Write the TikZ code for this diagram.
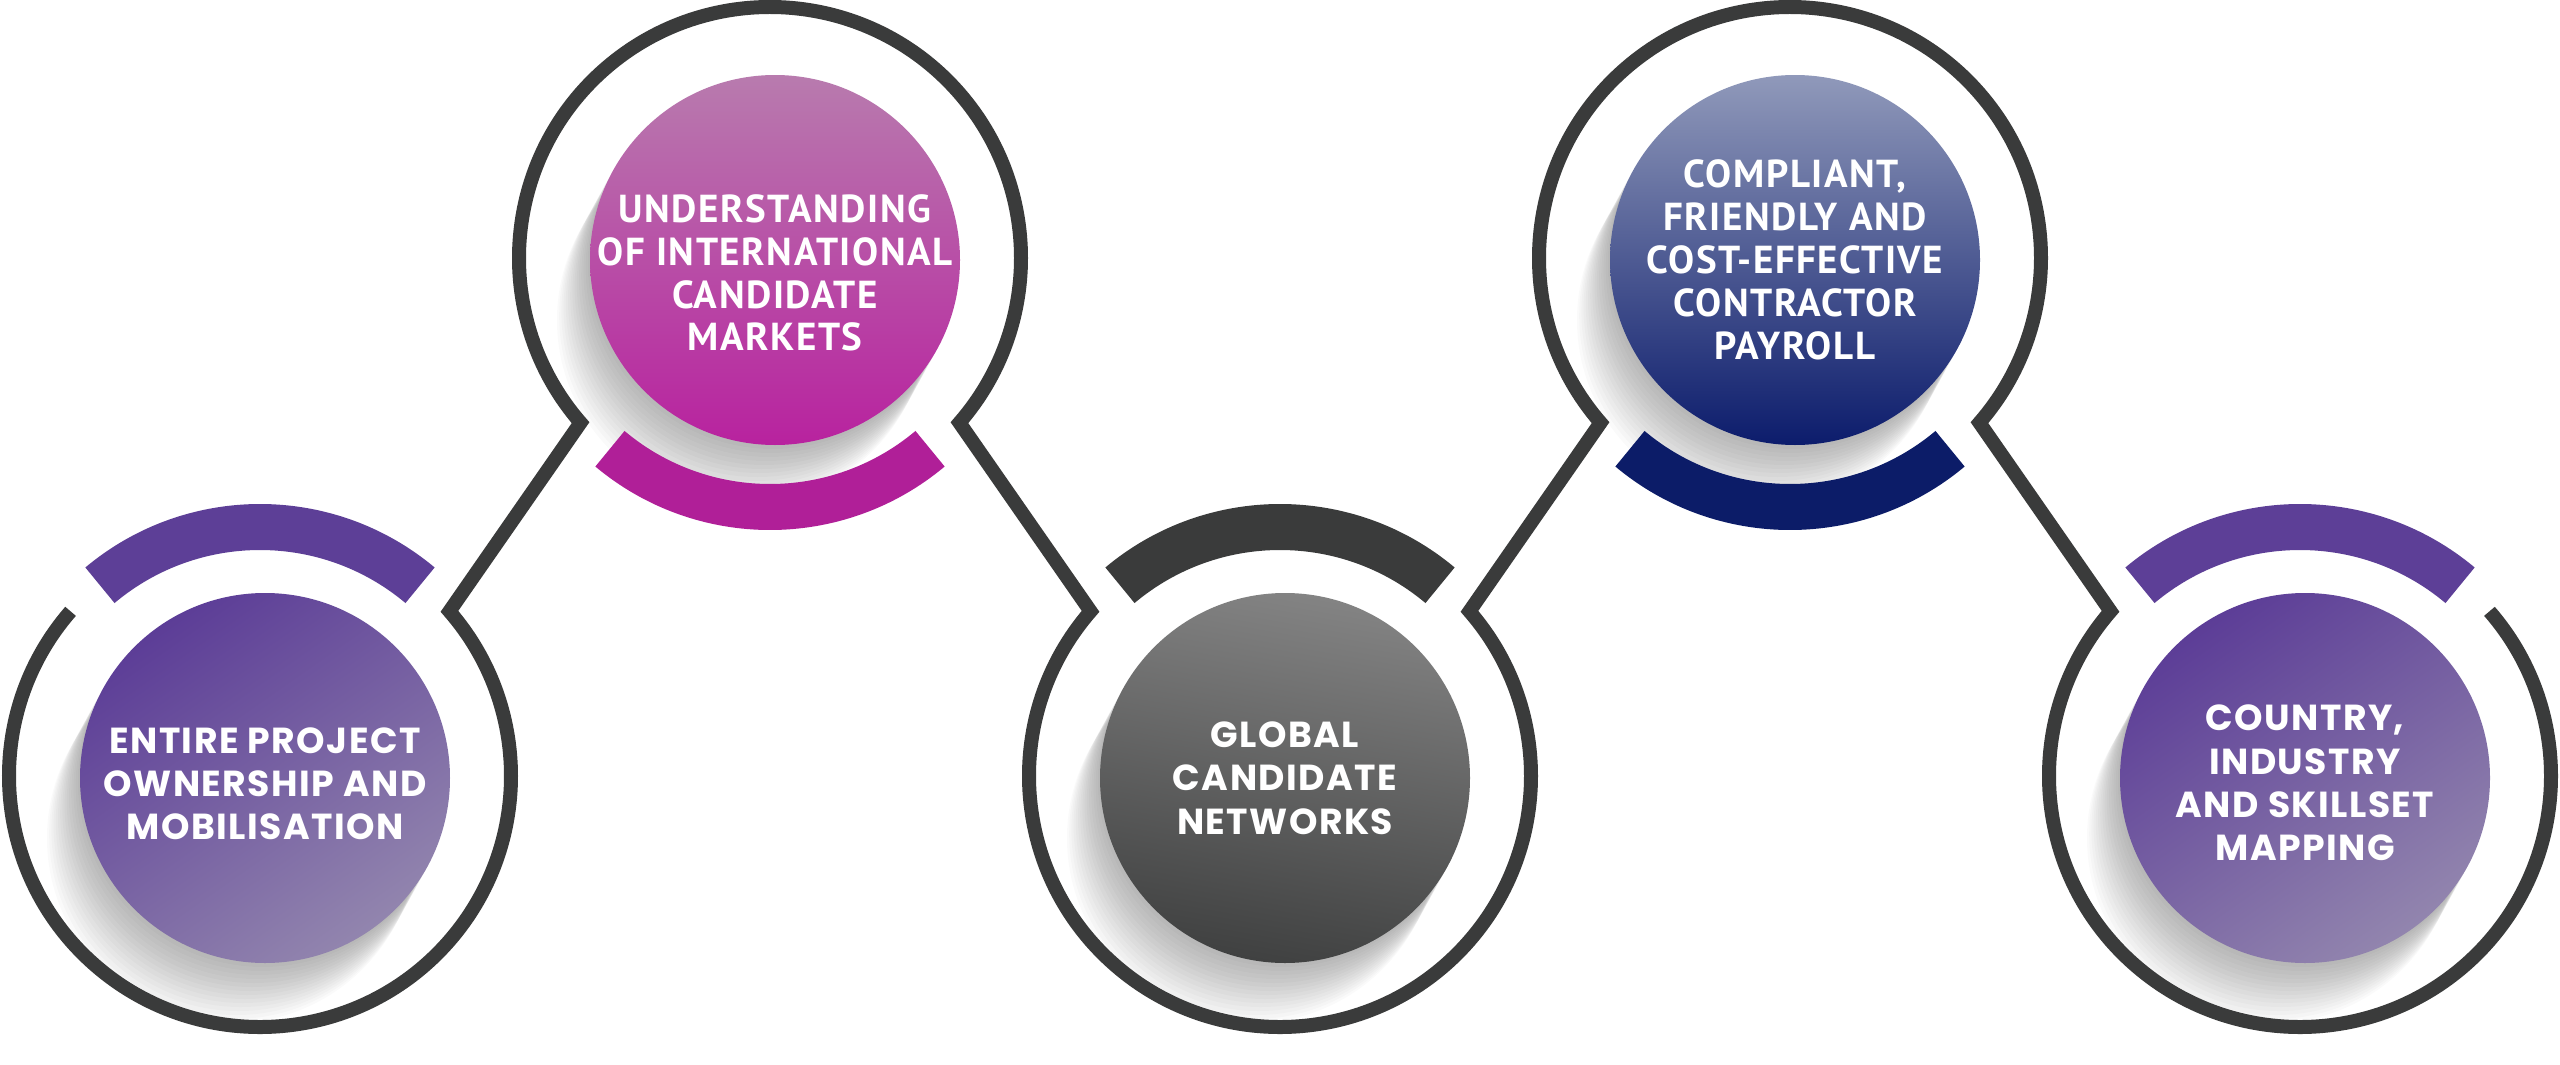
\documentclass[tikz,border=0pt]{standalone}
\usepackage{fontspec}
\newfontfamily\gothamfont{Poppins}[LetterSpace=4]
\newfontfamily\dinfont{PT Sans}[LetterSpace=4]
\usetikzlibrary{calc}
\definecolor{ringc}{HTML}{3A3B3B}
\definecolor{purpband}{HTML}{5D3F97}
\definecolor{purpdark}{HTML}{5C3D97}
\definecolor{purplight}{HTML}{9285AE}
\definecolor{magband}{HTML}{B01F98}
\definecolor{magtop}{HTML}{B87BAE}
\definecolor{magbot}{HTML}{B8229F}
\definecolor{graytop}{HTML}{838383}
\definecolor{graybot}{HTML}{404141}
\definecolor{navyband}{HTML}{0C1C68}
\definecolor{navytop}{HTML}{9099BA}
\definecolor{navybot}{HTML}{0C1C6C}
\tikzset{
  hub/.style={circle, minimum size=5.02cm, inner sep=0pt, outer sep=0pt},
  ringline/.style={line width=0.14cm, draw=ringc, line join=miter},
  bandarc/.style={line width=0.46cm, line cap=butt},
  disc/.style={circle, minimum size=3.7cm, inner sep=0pt, outer sep=0pt},
  label text/.style={text=white, align=center, inner sep=0pt},
  gtext/.style={label text, font=\gothamfont\bfseries\fontsize{10.3}{12.3}\selectfont},
  dtext/.style={label text, font=\dinfont\bfseries\fontsize{11.1}{12.2}\selectfont},
  purpdisc/.style={shading=axis, top color=purpdark, bottom color=purplight, shading angle=35},
  magdisc/.style={shading=axis, top color=magtop, bottom color=magbot},
  graydisc/.style={shading=axis, top color=graytop, bottom color=graybot, shading angle=-10},
  navydisc/.style={shading=axis, top color=navytop, bottom color=navybot},
}
\begin{document}
\begin{tikzpicture}
\useasboundingbox (0,0) rectangle (25.6,10.64);
\fill[white] (0,0) rectangle (25.6,10.64);
% hubs
\node[hub] (c1) at (2.60,2.88) {};
\node[hub] (c2) at (7.70,8.06) {};
\node[hub] (c3) at (12.80,2.88) {};
\node[hub] (c4) at (17.90,8.06) {};
\node[hub] (c5) at (23.00,2.88) {};
% shadows
\foreach \c in {c1,c2,c3,c4,c5}{
  \foreach \t in {0.04,0.08,...,0.64}{
    \fill[black, opacity=0.018] ($(\c)+(0.05-0.55*\t,-0.02-\t)$) circle (1.85);
  }
}
% ring path with connectors
\draw[ringline] (c1.139) arc[start angle=139, end angle=401, radius=2.51]
  -- (c2.221) arc[start angle=221, end angle=-41, radius=2.51]
  -- (c3.139) arc[start angle=139, end angle=401, radius=2.51]
  -- (c4.221) arc[start angle=221, end angle=-41, radius=2.51]
  -- (c5.139) arc[start angle=139, end angle=401, radius=2.51];
% bands
\draw[bandarc, purpband] ($(c1)+(50:2.49)$) arc[start angle=50, end angle=130, radius=2.49];
\draw[bandarc, magband] ($(c2)+(230:2.49)$) arc[start angle=230, end angle=310, radius=2.49];
\draw[bandarc, ringc] ($(c3)+(50:2.49)$) arc[start angle=50, end angle=130, radius=2.49];
\draw[bandarc, navyband] ($(c4)+(230:2.49)$) arc[start angle=230, end angle=310, radius=2.49];
\draw[bandarc, purpband] ($(c5)+(50:2.49)$) arc[start angle=50, end angle=130, radius=2.49];
% discs
\node[disc, purpdisc] (d1) at ($(c1)+(0.05,-0.02)$) {};
\node[disc, magdisc] (d2) at ($(c2)+(0.05,-0.02)$) {};
\node[disc, graydisc] (d3) at ($(c3)+(0.05,-0.02)$) {};
\node[disc, navydisc] (d4) at ($(c4)+(0.05,-0.02)$) {};
\node[disc, purpdisc] (d5) at ($(c5)+(0.05,-0.02)$) {};
% texts
\node[gtext] (t1) at ($(d1)+(0,-0.06)$) {ENTIRE PROJECT\\OWNERSHIP AND\\MOBILISATION};
\node[dtext] (t2) at ($(d2)+(0,-0.13)$) {UNDERSTANDING\\OF INTERNATIONAL\\CANDIDATE\\MARKETS};
\node[gtext] (t3) at ($(d3)+(0,0)$) {GLOBAL\\CANDIDATE\\NETWORKS};
\node[dtext] (t4) at ($(d4)+(0,0)$) {COMPLIANT,\\FRIENDLY AND\\COST-EFFECTIVE\\CONTRACTOR\\PAYROLL};
\node[gtext] (t5) at ($(d5)+(0,-0.05)$) {COUNTRY,\\INDUSTRY\\AND SKILLSET\\MAPPING};
\end{tikzpicture}
\end{document}
